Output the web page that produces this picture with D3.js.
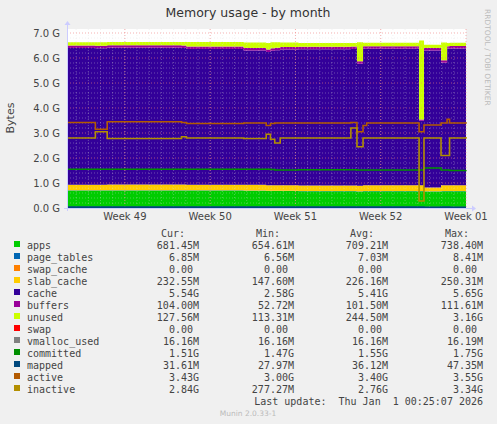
<!DOCTYPE html>
<html><head><meta charset="utf-8">
<script src="https://cdn.jsdelivr.net/npm/d3@7"></script>
<style>body{margin:0;background:#f0f0f0}</style>
</head><body>
<div id="graph-wrapper"></div>
<script>
// time in days from the left edge of the plot, values in G
const days      = [0, 2.33, 3.3, 9.4, 9.8, 14.5, 16.35, 16.7, 17.05, 17.5, 19, 23.3, 23.8, 24.3, 24.6, 28.9, 29.3, 30.7, 31.2, 31.4, 32.75]
const apps      = [0.70,0.70,0.70,0.70,0.70,0.69,0.68,0.68,0.68,0.68,0.67,0.67,0.66,0.67,0.67,0.67,0.66,0.67,0.67,0.67,0.68]
const pageTables= [0.007,0.007,0.007,0.007,0.007,0.007,0.007,0.007,0.007,0.007,0.007,0.007,0.007,0.007,0.007,0.007,0.007,0.007,0.007,0.007,0.007]
const swapCache = [0,0,0,0,0,0,0,0,0,0,0,0,0,0,0,0,0,0,0,0,0]
const slabCache = [0.22,0.22,0.23,0.23,0.22,0.23,0.22,0.22,0.22,0.22,0.22,0.22,0.22,0.23,0.23,0.23,0.15,0.23,0.23,0.23,0.23]
const cache     = [5.47,5.46,5.47,5.46,5.43,5.37,5.33,5.38,5.40,5.43,5.45,5.46,4.88,5.46,5.46,2.58,5.48,4.90,5.46,5.47,5.47]
const buffers   = [0.10,0.10,0.10,0.10,0.10,0.10,0.10,0.10,0.10,0.10,0.10,0.10,0.10,0.10,0.10,0.05,0.10,0.10,0.10,0.10,0.10]
const unused    = [0.13,0.14,0.13,0.14,0.18,0.22,0.26,0.24,0.22,0.18,0.15,0.14,0.76,0.14,0.14,3.16,0.13,0.71,0.13,0.13,0.13]
const committed = [1.55,1.55,1.55,1.55,1.55,1.55,1.55,1.54,1.52,1.52,1.53,1.53,1.52,1.52,1.52,1.52,1.60,1.52,1.52,1.50,1.51]
const vmalloc   = [0.016,0.016,0.016,0.016,0.016,0.016,0.016,0.016,0.016,0.016,0.016,0.016,0.016,0.016,0.016,0.016,0.016,0.016,0.016,0.016,0.016]
const mapped    = [0.035,0.035,0.036,0.036,0.036,0.036,0.036,0.036,0.036,0.036,0.036,0.036,0.036,0.036,0.036,0.036,0.03,0.036,0.036,0.032,0.032]
const active    = [3.42,3.15,3.45,3.42,3.38,3.40,3.30,3.38,3.40,3.40,3.40,3.42,3.05,3.30,3.40,3.05,3.32,3.40,3.55,3.40,3.43]
const inactive  = [2.80,3.05,2.78,2.85,2.80,2.78,2.95,2.75,2.60,2.80,2.80,3.20,2.45,2.80,2.80,0.28,2.80,2.10,2.10,2.80,2.84]

const yTicks = [0,1,2,3,4,5,6,7]
const weekLabels = ["Week 49","Week 50","Week 51","Week 52","Week 01"]
const weekDays = [4.75,11.75,18.75,25.75,32.75]

const legendNames = ["apps","page_tables","swap_cache","slab_cache","cache","buffers","unused","swap","vmalloc_used","committed","mapped","active","inactive"]
const legendColors = ["#00cc00","#0066b3","#ff8000","#ffcc00","#330099","#990099","#ccff00","#ff0000","#808080","#008f00","#00487d","#b35a00","#b38f00"]
const curVals = ["681.45M","6.85M","0.00","232.55M","5.54G","104.00M","127.56M","0.00","16.16M","1.51G","31.61M","3.43G","2.84G"]
const minVals = ["654.61M","6.56M","0.00","147.60M","2.58G","52.72M","113.31M","0.00","16.16M","1.47G","27.97M","3.00G","277.27M"]
const avgVals = ["709.21M","7.03M","0.00","226.16M","5.41G","101.50M","244.50M","0.00","16.16M","1.55G","36.12M","3.40G","2.76G"]
const maxVals = ["738.40M","8.41M","0.00","250.31M","5.65G","111.61M","3.16G","0.00","16.19M","1.75G","47.35M","3.55G","3.34G"]

const W = 497, H = 424
const svg = d3.select("#graph-wrapper").append("svg")
  .attr("width", W).attr("height", H)
  .style("font-family", "DejaVu Sans")

const x = d3.scaleLinear().domain([0, 32.75]).range([67, 466])
const y = d3.scaleLinear().domain([0, 7]).range([208, 33])

svg.append("rect").attr("x", 67).attr("y", 29).attr("width", 399).attr("height", 179).attr("fill", "white")

// stacked areas
const stackSeries = [apps, pageTables, swapCache, slabCache, cache, buffers, unused]
const rows = days.map((d, i) => {
  const r = {day: d}
  stackSeries.forEach((s, k) => r[k] = s[i])
  return r
})
const stacked = d3.stack().keys(d3.range(stackSeries.length))(rows)
const area = d3.area().curve(d3.curveStepAfter)
  .x(d => x(d.data.day)).y0(d => y(d[0])).y1(d => y(d[1]))
svg.selectAll(".layer").data(stacked).join("path")
  .attr("d", area).attr("fill", (d, i) => legendColors[i])

// grid on top
const grid = svg.append("g")
for (let v = 0.2; v < 7.1; v += 0.2) {
  if (Math.abs(v - Math.round(v)) < 0.01) continue
  grid.append("line").attr("x1", 67).attr("x2", 466).attr("y1", y(v)).attr("y2", y(v))
    .attr("stroke", "#ddd").attr("stroke-opacity", 0.35).attr("stroke-dasharray", "1,2")
}
for (let d = 0.75; d < 32.75; d += 1) {
  grid.append("line").attr("x1", x(d)).attr("x2", x(d)).attr("y1", 29).attr("y2", 208)
    .attr("stroke", "#ddd").attr("stroke-opacity", 0.35).attr("stroke-dasharray", "1,2")
}
yTicks.forEach(t => {
  grid.append("line").attr("x1", 67).attr("x2", 466).attr("y1", y(t)).attr("y2", y(t))
    .attr("stroke", "#f08080").attr("stroke-opacity", 0.6).attr("stroke-dasharray", "1,2")
})
weekDays.forEach(d => {
  grid.append("line").attr("x1", x(d)).attr("x2", x(d)).attr("y1", 29).attr("y2", 208)
    .attr("stroke", "#f08080").attr("stroke-opacity", 0.6).attr("stroke-dasharray", "1,2")
})

// lines
const line = s => d3.line().curve(d3.curveStepAfter).x((d, i) => x(days[i])).y(d => y(d))(s)
;[[vmalloc, "#808080"], [mapped, "#00487d"], [committed, "#008f00"], [active, "#b35a00"], [inactive, "#b38f00"]]
  .forEach(([s, c]) => svg.append("path").attr("d", line(s)).attr("fill", "none").attr("stroke", c).attr("stroke-width", 1.6))

// axes
svg.append("line").attr("x1", 64).attr("x2", 472).attr("y1", 208.5).attr("y2", 208.5).attr("stroke", "#ccf")
svg.append("line").attr("x1", 67.5).attr("x2", 67.5).attr("y1", 211).attr("y2", 25).attr("stroke", "#ccf")
svg.append("path").attr("d", "M472,205.5L476,208.5L472,211.5Z").attr("fill", "#ccf")
svg.append("path").attr("d", "M64.5,25L67.5,21L70.5,25Z").attr("fill", "#ccf")

svg.selectAll(".yl").data(yTicks).join("text")
  .attr("x", 60).attr("y", d => y(d) + 4).attr("text-anchor", "end")
  .attr("font-size", 10).attr("fill", "#444").text(d => d.toFixed(1) + " G")
svg.selectAll(".xl").data(weekLabels).join("text")
  .attr("x", (d, i) => x(weekDays[i])).attr("y", 220).attr("text-anchor", "middle")
  .attr("font-size", 10).attr("fill", "#444").text(d => d)

svg.append("text").attr("x", 248).attr("y", 17).attr("text-anchor", "middle")
  .attr("font-size", 12.5).attr("fill", "#333").text("Memory usage - by month")
svg.append("text").attr("transform", "translate(14,118) rotate(-90)").attr("text-anchor", "middle")
  .attr("font-size", 11).attr("fill", "#444").text("Bytes")
svg.append("text").attr("transform", "translate(485,9) rotate(90)")
  .attr("font-size", 7.5).attr("fill", "#bbb").text("RRDTOOL / TOBI OETIKER")

// legend
const mono = svg.append("g").style("font-family", "DejaVu Sans Mono").attr("font-size", 10).attr("fill", "#444")
;[["Cur:", 185], ["Min:", 280], ["Avg:", 374], ["Max:", 469]].forEach(([t, xx]) =>
  mono.append("text").attr("x", xx).attr("y", 237).attr("text-anchor", "end").text(t))
legendNames.forEach((n, i) => {
  const yy = 249 + i * 12
  mono.append("rect").attr("x", 14).attr("y", yy - 8).attr("width", 6).attr("height", 6).attr("fill", legendColors[i])
  mono.append("text").attr("x", 27).attr("y", yy).text(n)
  ;[[curVals, 199], [minVals, 294], [avgVals, 388], [maxVals, 483]].forEach(([vals, xx]) => {
    const v = vals[i]
    mono.append("text").attr("x", v === "0.00" ? xx - 6 : xx).attr("y", yy).attr("text-anchor", "end").text(v)
  })
})
mono.append("text").attr("x", 483).attr("y", 405).attr("text-anchor", "end").text("Last update:  Thu Jan  1 00:25:07 2026")
  .style("white-space", "pre")
svg.append("text").attr("x", 248).attr("y", 416).attr("text-anchor", "middle")
  .attr("font-size", 7.5).attr("fill", "#bbb").text("Munin 2.0.33-1")
</script>
</body></html>
